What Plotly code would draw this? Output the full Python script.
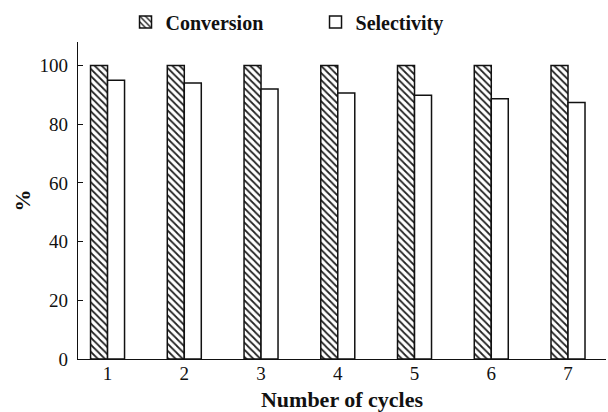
import plotly.graph_objects as go

cycles = ["1", "2", "3", "4", "5", "6", "7"]
conversion = [100, 100, 100, 100, 100, 100, 100]
selectivity = [95, 94, 92, 90.6, 89.9, 88.7, 87.4]
y_ticks = [0, 20, 40, 60, 80, 100]

serif = "Liberation Serif, Times New Roman, serif"
ink = "#111111"

fig = go.Figure()
fig.add_trace(go.Bar(
    name="Conversion", x=cycles, y=conversion,
    marker=dict(color="white", line=dict(color=ink, width=1.5),
                pattern=dict(shape="\\", fgcolor="#222", bgcolor="white",
                             size=5, solidity=0.35, fillmode="replace")),
))
fig.add_trace(go.Bar(
    name="Selectivity", x=cycles, y=selectivity,
    marker=dict(color="white", line=dict(color=ink, width=1.5)),
))

fig.update_layout(
    width=608, height=412,
    margin=dict(l=78, r=2, t=42, b=53, autoexpand=False),
    paper_bgcolor="white", plot_bgcolor="white",
    barmode="group", bargap=0.557, bargroupgap=0,
    font=dict(family=serif, size=19, color=ink),
    showlegend=True,
    legend=dict(orientation="h", x=0.09, y=1.063, xanchor="left", yanchor="middle",
                font=dict(family=serif, size=20, color=ink, weight="bold"),
                entrywidth=145, itemwidth=30, bgcolor="rgba(0,0,0,0)"),
    xaxis=dict(
        range=[-0.385, 6.495], showline=True, linecolor=ink, linewidth=1.3,
        ticks="", showgrid=False, zeroline=False, automargin=False,
        ticklabelstandoff=-3,
        tickfont=dict(family=serif, size=19, color=ink),
        title=dict(text="Number of cycles", standoff=8,
                   font=dict(family=serif, size=22, color=ink, weight="bold")),
    ),
    yaxis=dict(
        range=[0, 108], tickvals=y_ticks, showline=True, linecolor=ink, linewidth=1.3,
        ticks="inside", ticklen=5, tickcolor=ink, showgrid=False, zeroline=False,
        automargin=True, ticklabelstandoff=5,
        tickfont=dict(family=serif, size=19, color=ink),
        title=dict(text="%", standoff=2,
                   font=dict(family=serif, size=22, color=ink, weight="bold")),
    ),
)

fig.write_html("out.html")
